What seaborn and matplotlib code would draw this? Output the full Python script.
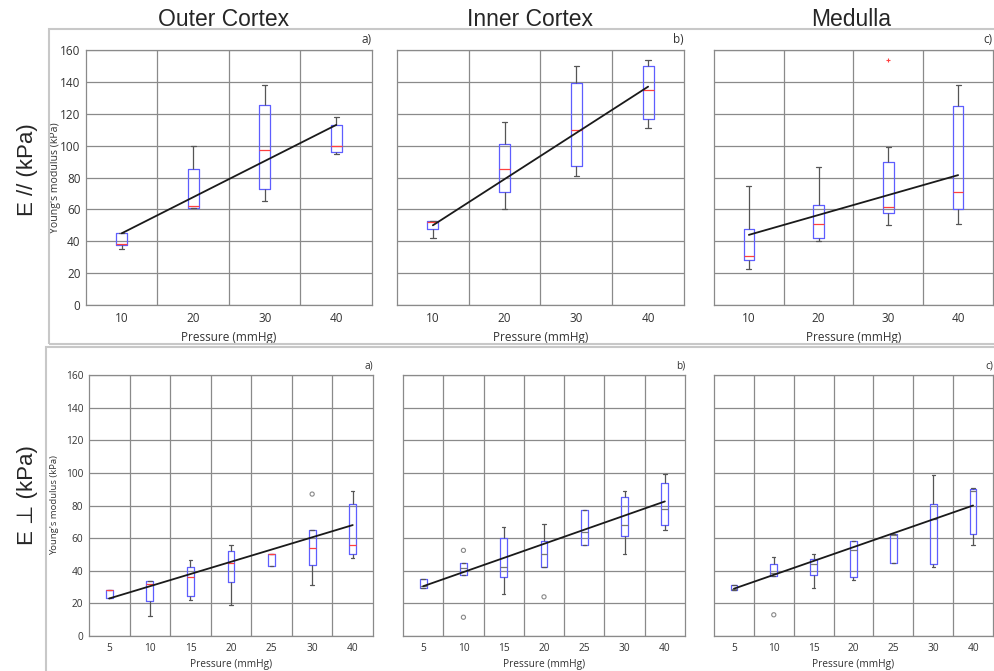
"""
Young's modulus vs. pressure, box plots per kidney region (parallel / perpendicular).
"""
import matplotlib
matplotlib.use("Agg")
import matplotlib.pyplot as plt
import numpy as np
import pandas as pd
import seaborn as sns
from matplotlib.patches import Rectangle

# ---- data: per pressure level [whisker low, q1, median, q3, whisker high] (kPa)
pressure_par = ["10", "20", "30", "40"]
pressure_perp = ["5", "10", "15", "20", "25", "30", "40"]

outer_par = [[35, 37.5, 38.5, 45, 45], [61, 61, 62, 85.5, 100],
             [65, 73, 97, 125.5, 138], [95, 96, 99.5, 113, 118]]
inner_par = [[42, 47.5, 52, 53, 53], [60, 71, 85.5, 101, 115],
             [81, 87, 110, 139, 150], [111, 117, 135, 150, 154]]
medulla_par = [[22.5, 28, 31, 47.5, 74.5], [40, 42, 51, 62.5, 86.5],
               [50, 57.5, 61.5, 89.5, 99], [51, 60.5, 71, 125, 138]]

outer_perp = [[23, 23, 28, 28, 28], [12.5, 21.5, 32, 34, 34], [22, 24.5, 36, 42.5, 46.5],
              [19, 33, 44.5, 52, 55.5], [43, 43, 50, 50, 50], [31, 43.5, 54, 65, 65],
              [48, 50.5, 56, 81, 89]]
inner_perp = [[29.5, 29.5, 30.5, 35, 35], [37.5, 37.5, 41.5, 44.5, 44.5], [26, 36, 42.5, 60, 67],
              [42.5, 42.5, 50, 58, 68.5], [56, 56, 64, 77.5, 77.5], [50, 61, 68, 85.5, 89],
              [65, 68, 78, 94, 99.5]]
medulla_perp = [[28, 28, 29, 31.5, 31.5], [37, 37, 38.5, 44, 48.5], [29.5, 37.5, 44, 47, 50],
                [34.5, 36, 53, 58, 58], [44.5, 44.5, 62, 62.5, 62.5], [42.5, 44, 72, 81, 98.5],
                [55.5, 62.5, 89, 90, 91]]

# outliers: (pressure, value)
outliers_medulla_par = [("30", 153.5)]
outliers_outer_perp = [("30", 87)]
outliers_inner_perp = [("10", 52.5), ("10", 11.5), ("20", 24)]
outliers_medulla_perp = [("10", 13)]

# linear trend, value at first and last pressure
fit_outer_par, fit_inner_par, fit_medulla_par = (45, 113), (50, 137), (44, 81.5)
fit_outer_perp, fit_inner_perp, fit_medulla_perp = (23, 68), (30.5, 82.5), (29, 80)

titles = ["Outer Cortex", "Inner Cortex", "Medulla"]
row_labels = ["E // (kPa)", "E \u22a5 (kPa)"]
letters = ["a)", "b)", "c)"]

sns.set_style("white")
plt.rcParams["font.family"] = ["Open Sans", "DejaVu Sans"]

W, H = 995, 671
fig = plt.figure(figsize=(W / 100, H / 100), dpi=100)


def px_axes(x0, x1, y0, y1):
    return fig.add_axes([x0 / W, 1 - y1 / H, (x1 - x0) / W, (y1 - y0) / H])


BLUE, GRID, TXT = "#5e5eff", "#8a8a8a", "#333333"


def panel(ax, cats, stats, fit, outliers, median_color, fs, ylab, letter, big):
    df = pd.DataFrame([(c, v) for c, s in zip(cats, stats) for v in s], columns=["p", "E"])
    sns.boxplot(data=df, x="p", y="E", order=cats, whis=(0, 100), width=0.15 if big else 0.17,
                fill=False, color=BLUE, linewidth=0.9, ax=ax,
                whiskerprops={"color": "#555555"}, capprops={"color": "#555555"},
                medianprops={"color": median_color})
    if outliers:
        od = pd.DataFrame(outliers, columns=["p", "E"])
        od["x"] = [cats.index(p) for p in od["p"]]
        if big:
            sns.scatterplot(data=od, x="x", y="E", marker="+", color="#ff4040", s=6,
                            linewidth=0.8, ax=ax, zorder=4)
        else:
            sns.scatterplot(data=od, x="x", y="E", marker="o", facecolor="none",
                            edgecolor="#888888", s=9, linewidth=0.8, ax=ax, zorder=4)
    ax.plot([0, len(cats) - 1], list(fit), color="#1a1a1a", lw=1.3, zorder=5)
    ax.set_xlim(-0.5, len(cats) - 0.5)
    ax.set_ylim(0, 160)
    ax.set_yticks(np.arange(0, 161, 20))
    ax.set_xticks(np.arange(0.5, len(cats) - 0.5), minor=True)
    ax.grid(True, which="minor", axis="x", color=GRID, lw=0.9)
    ax.grid(True, which="major", axis="y", color=GRID, lw=0.9)
    ax.set_axisbelow(True)
    for s in ax.spines.values():
        s.set_color(GRID)
        s.set_linewidth(0.9)
    ax.tick_params(length=0, labelsize=fs, colors=TXT, pad=5)
    ax.tick_params(axis="y", pad=4)
    ax.set_xlabel("Pressure (mmHg)", fontsize=fs, color=TXT, labelpad=4)
    if ylab is not None:
        ax.set_ylabel("Young's modulus (kPa)", fontsize=ylab[1], color=TXT)
        ax.yaxis.set_label_coords(ylab[0], 0.5)
    else:
        ax.set_ylabel("")
        ax.set_yticklabels([])
    ax.text(1.0, 1.015, letter, transform=ax.transAxes, ha="right", va="bottom",
            fontsize=fs, color=TXT)


# frames around the two rows
fig.patches.append(Rectangle((49 / W, 1 - 344 / H), 947 / W, 315 / H, transform=fig.transFigure,
                             fill=False, ec="#c8c8c8", lw=1.5))
fig.patches.append(Rectangle((46 / W, 1 - 672 / H), 950 / W, 325 / H, transform=fig.transFigure,
                             fill=False, ec="#c8c8c8", lw=1.5))

top = [(86, 372), (397, 684), (714, 993)]
bot = [(89, 373), (403, 685), (714, 993)]
par_sets = [(outer_par, fit_outer_par, []), (inner_par, fit_inner_par, []),
            (medulla_par, fit_medulla_par, outliers_medulla_par)]
perp_sets = [(outer_perp, fit_outer_perp, outliers_outer_perp),
             (inner_perp, fit_inner_perp, outliers_inner_perp),
             (medulla_perp, fit_medulla_perp, outliers_medulla_perp)]

for i in range(3):
    ax = px_axes(*top[i], 50, 305)
    st, ft, ol = par_sets[i]
    panel(ax, pressure_par, st, ft, ol, "#ff4040", 8.5, (-0.088, 7.6) if i == 0 else None,
          letters[i], True)

    ax = px_axes(*bot[i], 375, 636)
    st, ft, ol = perp_sets[i]
    panel(ax, pressure_perp, st, ft, ol, "#ff4040" if i == 0 else "#777777", 7.3,
          (-0.105, 6.8) if i == 0 else None, letters[i], False)

for x, t in zip([224, 530, 851], titles):
    fig.text(x / W, 1 - 19 / H, t, ha="center", va="center", fontsize=16.5,
             family=["Liberation Sans", "DejaVu Sans"])
for y, t in zip([170, 495], row_labels):
    fig.text(28 / W, 1 - y / H, t, ha="center", va="center", rotation=90, fontsize=16,
             family=["Liberation Sans", "DejaVu Sans"])

fig.savefig("out.png", dpi=100)
